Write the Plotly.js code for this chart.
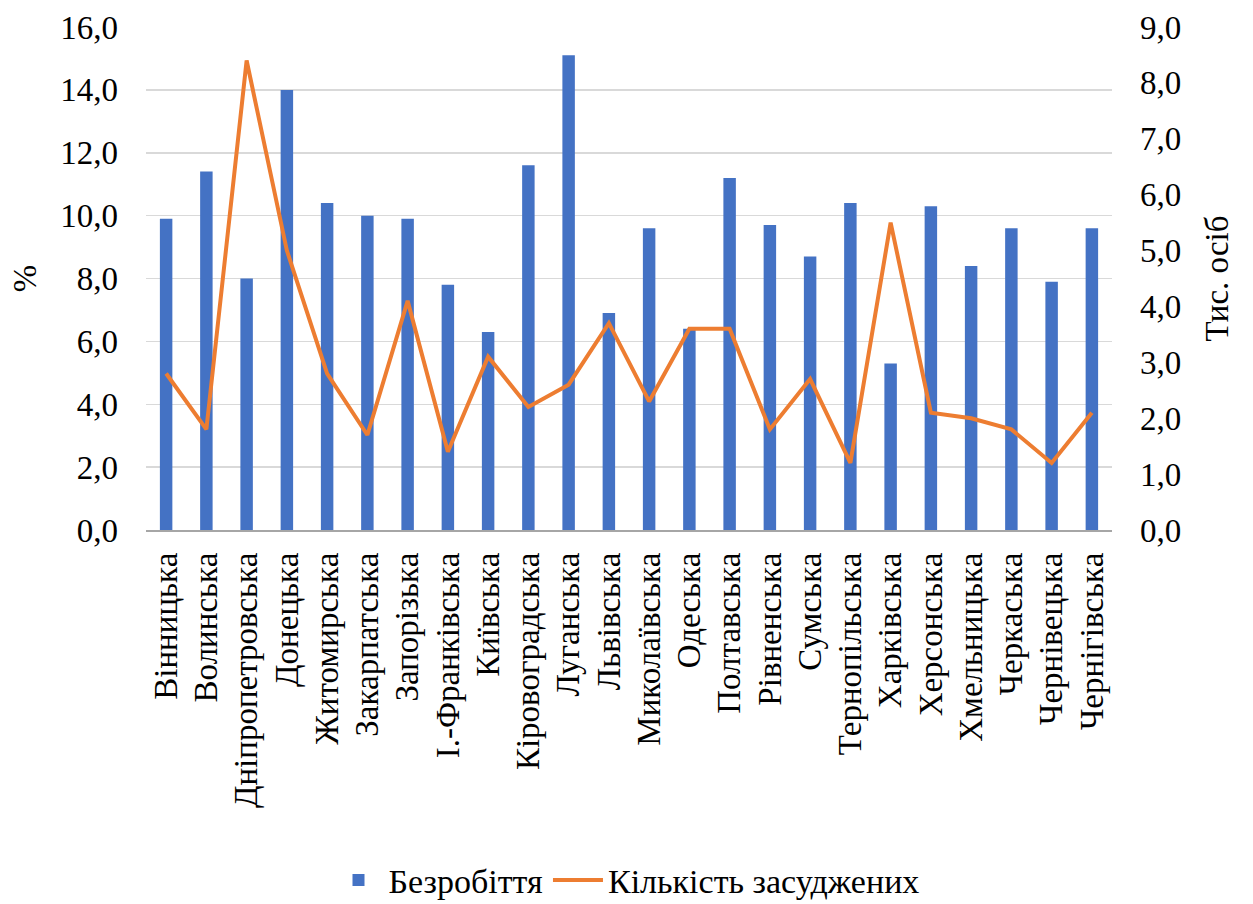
<!DOCTYPE html>
<html>
<head>
<meta charset="utf-8">
<script src="https://cdn.plot.ly/plotly-3.0.1.min.js"></script>
<style>html,body{margin:0;padding:0;background:#fff;}#chart{width:1253px;height:904px;}</style>
</head>
<body>
<div id="chart"></div>
<script>
const regions = ["Вінницька","Волинська","Дніпропетровська","Донецька","Житомирська","Закарпатська","Запорізька","І.-Франківська","Київська","Кіровоградська","Луганська","Львівська","Миколаївська","Одеська","Полтавська","Рівненська","Сумська","Тернопільська","Харківська","Херсонська","Хмельницька","Черкаська","Чернівецька","Чернігівська"];
const unemployment = [9.9,11.4,8.0,14.0,10.4,10.0,9.9,7.8,6.3,11.6,15.1,6.9,9.6,6.4,11.2,9.7,8.7,10.4,5.3,10.3,8.4,9.6,7.9,9.6];
const convicted = [2.8,1.8,8.4,5.0,2.8,1.7,4.1,1.4,3.1,2.2,2.6,3.7,2.3,3.6,3.6,1.8,2.7,1.2,5.5,2.1,2.0,1.8,1.2,2.1];
const seriesNames = ["Безробіття","Кількість засуджених"];
const leftTitle = "%";
const rightTitle = "Тис. осіб";

const fontFam = "Liberation Serif, Times New Roman, serif";
const FS = 33;
const data = [
  {type:"bar", x:regions, y:unemployment, name:seriesNames[0], marker:{color:"#4472C4"}, yaxis:"y"},
  {type:"scatter", mode:"lines", x:regions, y:convicted, name:seriesNames[1], line:{color:"#ED7D31", width:4}, yaxis:"y2"}
];
const layout = {
  width:1253, height:904,
  margin:{l:146, r:141, t:27, b:374},
  paper_bgcolor:"#fff", plot_bgcolor:"#fff",
  font:{family:fontFam, size:FS, color:"#000"},
  separators:", ",
  bargap:0.69,
  showlegend:true,
  legend:{orientation:"h", x:0.5, xanchor:"center", xref:"container", y:0.026, yanchor:"middle", yref:"container", font:{family:fontFam, size:34}, traceorder:"normal", itemwidth:50, bgcolor:"rgba(0,0,0,0)"},
  xaxis:{type:"category", tickangle:-90, showgrid:false, showline:true, linecolor:"#a6a6a6", linewidth:1.5, ticks:"", tickfont:{family:fontFam, size:FS}, ticklabelstandoff:8, automargin:false},
  yaxis:{range:[0,16], dtick:2, tickformat:".1f", showgrid:true, gridcolor:"#d9d9d9", gridwidth:1.5, zeroline:false, showline:false, ticks:"", tickfont:{family:fontFam, size:FS}, ticklabelstandoff:27,
         title:{text:leftTitle, font:{family:fontFam, size:FS}, standoff:13}, automargin:false},
  yaxis2:{range:[0,9], dtick:1, tickformat:".1f", overlaying:"y", side:"right", showgrid:false, zeroline:false, showline:false, ticks:"", tickfont:{family:fontFam, size:FS}, ticklabelstandoff:27,
         title:{text:rightTitle, font:{family:fontFam, size:FS}, standoff:24}, automargin:false}
};
Plotly.newPlot("chart", data, layout, {displayModeBar:false, staticPlot:true});
</script>
</body>
</html>
